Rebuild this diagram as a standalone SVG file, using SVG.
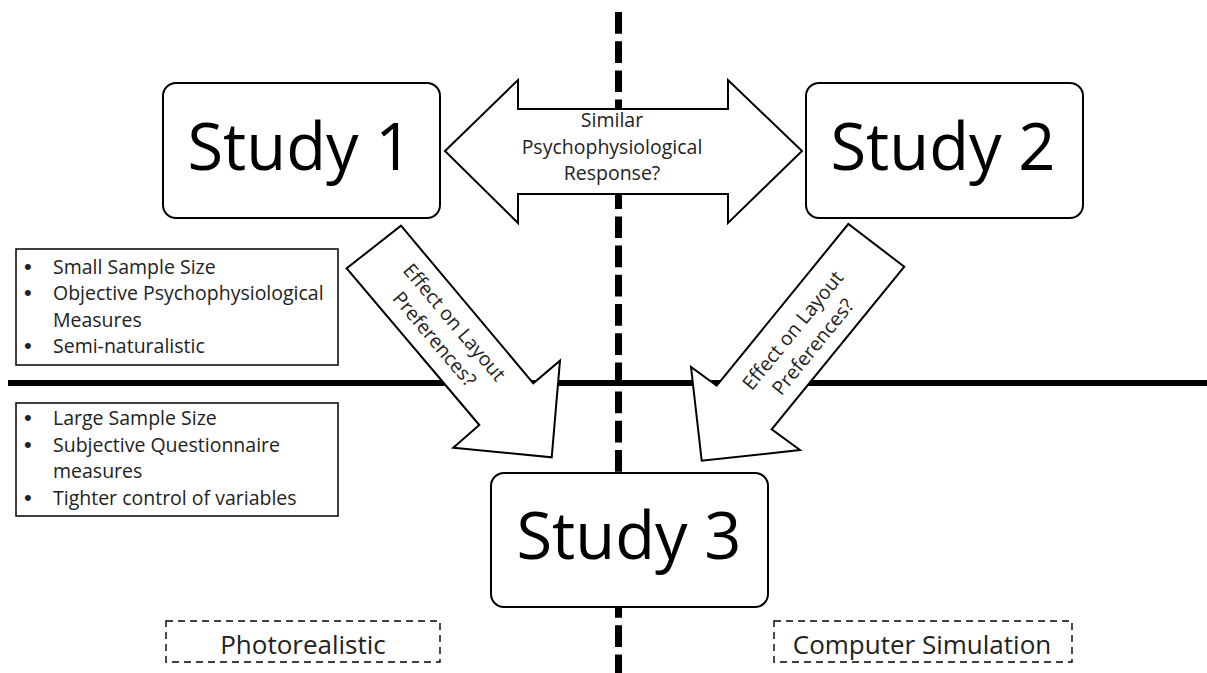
<svg xmlns="http://www.w3.org/2000/svg" width="1207" height="673" viewBox="0 0 1207 673">
  <style>
    .study { fill: #fff; stroke: #000; stroke-width: 2; }
    .studytxt { font-family: "Open Sans", "Noto Sans", sans-serif; font-size: 65px; fill: #000; text-anchor: middle; }
    .list { fill: #fff; stroke: #000; stroke-width: 1.5; }
    .txt { font-family: "Open Sans", "Noto Sans", sans-serif; font-size: 19.5px; fill: #222; }
    .bul { font-family: "Liberation Sans", sans-serif; font-size: 22px; fill: #222; }
    .mid { text-anchor: middle; }
    .blk { fill: #fff; stroke: #000; stroke-width: 2; stroke-linejoin: miter; }
    .dbox { fill: #fff; stroke: #000; stroke-width: 1.4; stroke-dasharray: 7 5; }
    .lbl { font-family: "Open Sans", "Noto Sans", sans-serif; font-size: 26px; fill: #222; text-anchor: middle; }
  </style>
  <rect width="1207" height="673" fill="#fff"/>

  <g id="dividers">
    <line x1="618.5" y1="12" x2="618.5" y2="673" stroke="#000" stroke-width="7" stroke-dasharray="21.7 7.5"/>
    <line x1="8" y1="383" x2="1207" y2="383" stroke="#000" stroke-width="6"/>
  </g>

  <g id="connectors">
    <g id="arrow-similar">
      <polygon class="blk" points="445,151 518,80 518,109 728,109 728,80 802,151 728,223 728,194 518,194 518,223"/>
      <text class="txt mid" x="612" y="127">Similar</text>
      <text class="txt mid" x="612" y="153.5">Psychophysiological</text>
      <text class="txt mid" x="612" y="180">Response?</text>
    </g>
    <g id="arrow-1-3">
      <polygon class="blk" points="346.7,268.3 401,225.7 533.3,383.3 560,360.7 551.7,457.3 453.3,447.7 479.3,425"/>
      <g transform="translate(444.6,330.5) rotate(49.8)">
        <text class="txt mid" x="0" y="-6">Effect on Layout</text>
        <text class="txt mid" x="0" y="20">Preferences?</text>
      </g>
    </g>
    <g id="arrow-2-3">
      <polygon class="blk" points="904.3,266.7 848.3,224 716.7,385.7 691,367 701.7,460.7 800,450 771.7,429.3"/>
      <g transform="translate(802.7,338.5) rotate(-50.8)">
        <text class="txt mid" x="0" y="-6">Effect on Layout</text>
        <text class="txt mid" x="0" y="20">Preferences?</text>
      </g>
    </g>
  </g>

  <g id="study1">
    <rect class="study" x="163" y="83" width="277" height="135" rx="13"/>
    <text class="studytxt" x="300" y="170">Study 1</text>
  </g>
  <g id="study2">
    <rect class="study" x="806" y="83" width="277" height="135" rx="13"/>
    <text class="studytxt" x="943" y="170">Study 2</text>
  </g>
  <g id="study3">
    <rect class="study" x="491" y="473" width="277" height="134" rx="13"/>
    <text class="studytxt" x="629" y="559">Study 3</text>
  </g>

  <g id="list-study12">
    <rect class="list" x="16" y="249" width="322" height="116"/>
    <text class="bul" x="24" y="274">•</text>
    <text class="txt" x="53" y="274">Small Sample Size</text>
    <text class="bul" x="24" y="300">•</text>
    <text class="txt" x="53" y="300">Objective Psychophysiological</text>
    <text class="txt" x="53" y="327">Measures</text>
    <text class="bul" x="24" y="353">•</text>
    <text class="txt" x="53" y="353">Semi-naturalistic</text>
  </g>
  <g id="list-study3">
    <rect class="list" x="16" y="403" width="322" height="113"/>
    <text class="bul" x="24" y="425">•</text>
    <text class="txt" x="53" y="425">Large Sample Size</text>
    <text class="bul" x="24" y="452">•</text>
    <text class="txt" x="53" y="452">Subjective Questionnaire</text>
    <text class="txt" x="53" y="478">measures</text>
    <text class="bul" x="24" y="505">•</text>
    <text class="txt" x="53" y="505">Tighter control of variables</text>
  </g>

  <g id="photorealistic">
    <rect class="dbox" x="166" y="621" width="274" height="41"/>
    <text class="lbl" x="303" y="654">Photorealistic</text>
  </g>
  <g id="computer-simulation">
    <rect class="dbox" x="774" y="621" width="298" height="41"/>
    <text class="lbl" x="922" y="654">Computer Simulation</text>
  </g>
</svg>
